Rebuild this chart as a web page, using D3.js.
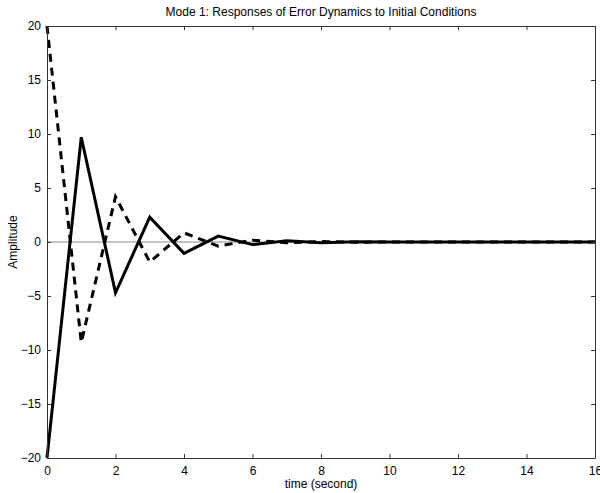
<!DOCTYPE html>
<html>
<head>
<meta charset="utf-8">
<script src="https://cdn.jsdelivr.net/npm/d3@7"></script>
<style>
  body { margin: 0; background: #fff; }
  svg { font-family: 'Liberation Sans', Arial, sans-serif; }
  .axis text { font-size: 12px; fill: #000; }
  .axis path, .axis line { stroke: #333; }
</style>
</head>
<body>
<div id="chart"></div>
<script>
// sample times and responses
const time = [0, 1, 2, 3, 4, 5, 6, 7, 8, 9, 10, 11, 12, 13, 14, 15, 16]
const solidSeries = [-20, 9.7, -4.7, 2.3, -1.05, 0.55, -0.24, 0.12, -0.06, 0.03, -0.01, 0.005, 0, 0, 0, 0, 0]
const dashedSeries = [20, -9.3, 4.2, -1.85, 0.85, -0.38, 0.17, -0.08, 0.04, -0.02, 0.01, 0, 0, 0, 0, 0, 0]
const xTicks = [0, 2, 4, 6, 8, 10, 12, 14, 16]
const yTicks = [-20, -15, -10, -5, 0, 5, 10, 15, 20]
const title = 'Mode 1: Responses of Error Dynamics to Initial Conditions'
const xLabel = 'time (second)'
const yLabel = 'Amplitude'

const width = 600
const height = 493
const margins = {top: 26, left: 47, right: 5, bottom: 35}
const w = width - margins.left - margins.right
const h = height - margins.top - margins.bottom

const x = d3.scaleLinear().domain([0, 16]).range([0, w])
const y = d3.scaleLinear().domain([-20, 20]).range([h, 0])

const svg = d3.select('#chart').append('svg')
  .attr('width', width)
  .attr('height', height)

const g = svg.append('g')
  .attr('transform', 'translate(' + margins.left + ',' + margins.top + ')')

// zero line
g.append('line')
  .attr('x1', 0).attr('x2', w)
  .attr('y1', y(0)).attr('y2', y(0))
  .attr('stroke', '#888')
  .attr('stroke-width', 1)

const line = d3.line().x(d => x(d[0])).y(d => y(d[1]))

g.append('path')
  .datum(time.map((t, i) => [t, dashedSeries[i]]))
  .attr('d', line)
  .attr('fill', 'none')
  .attr('stroke', '#000')
  .attr('stroke-width', 3)
  .attr('stroke-dasharray', '8,6')

g.append('path')
  .datum(time.map((t, i) => [t, solidSeries[i]]))
  .attr('d', line)
  .attr('fill', 'none')
  .attr('stroke', '#000')
  .attr('stroke-width', 3)
  .attr('stroke-linejoin', 'miter')

// axes, ticks pointing inward on all four sides
const fmt = d3.format('')
g.append('g').classed('axis', true)
  .attr('transform', 'translate(0,' + h + ')')
  .call(d3.axisBottom(x).tickValues(xTicks).tickSizeInner(-4).tickSizeOuter(0).tickPadding(8).tickFormat(fmt))
g.append('g').classed('axis', true)
  .call(d3.axisTop(x).tickValues(xTicks).tickSizeInner(-4).tickSizeOuter(0).tickFormat(''))
g.append('g').classed('axis', true)
  .call(d3.axisLeft(y).tickValues(yTicks).tickSizeInner(-4).tickSizeOuter(0).tickPadding(6).tickFormat(fmt))
g.append('g').classed('axis', true)
  .attr('transform', 'translate(' + w + ',0)')
  .call(d3.axisRight(y).tickValues(yTicks).tickSizeInner(-4).tickSizeOuter(0).tickFormat(''))

// labels
svg.append('text')
  .attr('x', margins.left + w / 2)
  .attr('y', 16)
  .attr('text-anchor', 'middle')
  .style('font-size', '12px')
  .text(title)

svg.append('text')
  .attr('x', margins.left + w / 2)
  .attr('y', 488)
  .attr('text-anchor', 'middle')
  .style('font-size', '12px')
  .text(xLabel)

svg.append('text')
  .attr('transform', 'translate(17,' + (margins.top + h / 2) + ') rotate(-90)')
  .attr('text-anchor', 'middle')
  .style('font-size', '12px')
  .text(yLabel)
</script>
</body>
</html>
